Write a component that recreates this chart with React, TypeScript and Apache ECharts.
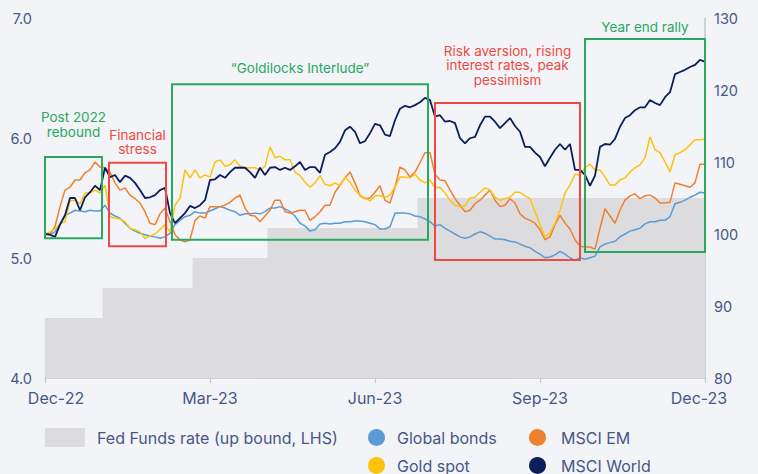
import React, { useEffect, useRef } from 'react';
import * as echarts from 'echarts';

// x positions are sample indices (0 = end Dec-22, 132 = end Dec-23)
const tickIndex = [0, 33, 66, 99, 132];
const tickLabels = ['Dec-22', 'Mar-23', 'Jun-23', 'Sep-23', 'Dec-23'];

const seriesNames = ['Fed Funds rate (up bound, LHS)', 'Global bonds', 'MSCI EM', 'Gold spot', 'MSCI World'];

const fedRate = [
  4.5, 4.5, 4.5, 4.5, 4.5, 4.5, 4.5, 4.5, 4.5, 4.5, 4.5, 4.5,
  4.75, 4.75, 4.75, 4.75, 4.75, 4.75, 4.75, 4.75, 4.75, 4.75, 4.75, 4.75, 4.75, 4.75, 4.75, 4.75, 4.75, 4.75,
  5.0, 5.0, 5.0, 5.0, 5.0, 5.0, 5.0, 5.0, 5.0, 5.0, 5.0, 5.0, 5.0, 5.0, 5.0,
  5.25, 5.25, 5.25, 5.25, 5.25, 5.25, 5.25, 5.25, 5.25, 5.25, 5.25, 5.25, 5.25, 5.25, 5.25,
  5.25, 5.25, 5.25, 5.25, 5.25, 5.25, 5.25, 5.25, 5.25, 5.25, 5.25, 5.25, 5.25, 5.25, 5.25,
  5.5, 5.5, 5.5, 5.5, 5.5, 5.5, 5.5, 5.5, 5.5, 5.5, 5.5, 5.5, 5.5, 5.5, 5.5, 5.5, 5.5, 5.5, 5.5, 5.5,
  5.5, 5.5, 5.5, 5.5, 5.5, 5.5, 5.5, 5.5, 5.5, 5.5, 5.5, 5.5, 5.5, 5.5, 5.5, 5.5, 5.5, 5.5, 5.5, 5.5,
  5.5, 5.5, 5.5, 5.5, 5.5, 5.5, 5.5, 5.5, 5.5, 5.5, 5.5, 5.5, 5.5, 5.5, 5.5, 5.5, 5.5, 5.5
];

const globalBonds = [
  100.0, 99.9, 100.3, 101.4, 102.6, 102.9, 103.3, 103.2, 103.1, 103.3,
  103.2, 103.2, 104.0, 102.9, 102.5, 102.2, 101.5, 100.8, 100.4, 100.1,
  99.9, 99.7, 99.6, 99.4, 99.6, 100.1, 101.3, 101.9, 102.4, 102.6,
  103.1, 102.9, 102.9, 103.2, 103.5, 103.8, 103.6, 103.3, 103.1, 102.6,
  102.8, 102.8, 102.9, 102.8, 103.1, 103.6, 103.6, 103.8, 103.5, 103.1,
  102.5, 101.5, 101.1, 100.4, 100.6, 101.4, 101.5, 101.4, 101.5, 101.5,
  101.7, 101.7, 101.8, 101.8, 101.7, 101.5, 101.3, 100.7, 100.7, 101.0,
  102.9, 102.9, 102.9, 102.8, 102.5, 102.4, 102.1, 101.7, 101.1, 101.3,
  100.8, 100.4, 100.0, 99.6, 99.4, 99.6, 100.0, 100.3, 100.1, 99.7,
  99.3, 99.3, 99.2, 99.0, 98.9, 98.6, 98.3, 98.1, 97.6, 97.2,
  96.7, 96.8, 97.1, 97.6, 97.2, 96.7, 96.3, 96.7, 96.5, 96.7,
  96.9, 98.2, 98.6, 98.8, 99.0, 99.6, 100.0, 100.4, 100.6, 100.8,
  101.4, 101.7, 101.7, 101.9, 101.9, 102.4, 104.2, 104.4, 104.7, 105.1,
  105.4, 105.8, 105.7
];

const msciEm = [
  100.0, 100.0, 101.0, 103.8, 106.1, 106.5, 107.5, 107.5, 108.5, 108.9,
  110.0, 109.3, 109.2, 108.6, 107.1, 106.1, 106.4, 105.4, 104.9, 104.3,
  103.1, 101.5, 101.3, 102.8, 103.6, 101.7, 99.9, 99.2, 98.9, 99.2,
  101.9, 102.5, 102.2, 103.8, 103.8, 103.8, 104.0, 104.4, 105.0, 105.4,
  103.6, 102.6, 102.5, 101.7, 102.5, 103.3, 104.7, 104.7, 103.1, 102.9,
  103.1, 103.3, 103.3, 101.9, 102.4, 103.1, 104.0, 104.0, 105.8, 106.8,
  107.8, 108.6, 107.1, 105.3, 104.9, 105.0, 105.8, 106.7, 104.7, 104.3,
  106.5, 109.3, 108.9, 107.9, 108.6, 109.9, 111.3, 111.3, 108.3, 107.5,
  107.4, 106.1, 104.9, 104.0, 103.1, 103.3, 104.2, 104.7, 105.4, 106.1,
  104.7, 103.8, 104.0, 104.9, 104.3, 102.8, 102.2, 101.9, 101.5, 100.6,
  99.2, 99.6, 101.3, 102.6, 101.5, 100.7, 99.2, 98.3, 98.2, 98.2,
  97.9, 100.8, 103.5, 102.5, 101.5, 103.3, 104.7, 105.3, 105.6, 104.9,
  105.3, 105.4, 105.0, 104.3, 104.3, 104.4, 107.1, 106.9, 106.7, 106.5,
  107.1, 109.7, 109.7
];

const goldSpot = [
  100.0, 100.3, 100.7, 101.4, 101.7, 104.6, 104.7, 104.2, 105.7, 105.7,
  106.1, 105.7, 106.8, 102.4, 102.2, 102.1, 101.7, 100.8, 100.6, 100.3,
  99.4, 99.7, 100.0, 100.6, 101.3, 100.3, 104.0, 105.0, 108.9, 107.8,
  108.9, 107.8, 108.2, 107.9, 110.0, 110.3, 109.4, 109.6, 110.3, 109.4,
  109.2, 109.2, 109.2, 108.9, 109.4, 112.1, 110.6, 110.8, 110.3, 110.3,
  108.6, 108.1, 107.2, 106.5, 107.1, 108.1, 106.9, 106.7, 107.1, 106.7,
  107.9, 107.2, 106.1, 105.4, 105.0, 104.6, 105.3, 105.3, 105.1, 105.4,
  106.5, 107.9, 107.9, 107.8, 108.3, 107.5, 107.1, 107.5, 106.4, 106.5,
  105.7, 104.7, 104.0, 103.8, 103.9, 105.0, 105.1, 105.8, 106.4, 106.1,
  105.1, 104.7, 104.9, 105.1, 105.8, 105.8, 105.3, 104.9, 103.1, 101.3,
  99.6, 100.1, 101.5, 103.3, 105.7, 106.8, 108.3, 108.2, 109.2, 109.7,
  108.9, 108.9, 107.9, 106.8, 106.8, 107.5, 107.8, 108.6, 109.2, 109.6,
  110.6, 113.5, 111.7, 111.3, 110.0, 108.6, 111.0, 111.3, 111.7, 112.4,
  113.1, 113.1, 113.2
];

const msciWorld = [
  100.0, 99.9, 99.6, 101.3, 102.6, 105.0, 105.0, 103.3, 105.1, 105.8,
  106.7, 106.1, 109.2, 107.9, 108.2, 107.2, 108.1, 107.8, 107.1, 106.1,
  105.0, 105.1, 105.4, 106.1, 106.4, 102.9, 101.5, 102.2, 102.9, 103.9,
  103.6, 104.0, 104.7, 107.5, 107.6, 108.2, 107.8, 108.6, 109.2, 109.2,
  109.2, 108.6, 107.8, 109.2, 108.2, 109.2, 109.3, 108.9, 109.2, 108.9,
  109.4, 110.0, 108.9, 109.3, 109.3, 108.5, 111.0, 111.4, 111.9, 112.8,
  114.4, 114.9, 114.2, 112.6, 112.9, 114.0, 115.3, 115.1, 113.8, 113.6,
  115.8, 117.4, 117.8, 117.6, 117.9, 118.3, 118.9, 118.6, 116.3, 116.5,
  115.6, 115.7, 115.4, 113.3, 112.6, 113.3, 113.5, 115.1, 116.3, 116.3,
  115.6, 114.7, 115.4, 116.1, 115.0, 114.2, 112.1, 112.1, 111.3, 110.7,
  109.4, 110.6, 111.7, 112.5, 111.7, 112.5, 108.9, 108.9, 108.2, 106.7,
  108.1, 112.1, 112.5, 112.4, 113.2, 114.9, 116.1, 116.5, 117.2, 117.6,
  117.6, 118.6, 118.2, 117.9, 119.0, 119.7, 122.2, 122.5, 122.8, 123.2,
  123.5, 124.2, 123.9
];

// annotation boxes: [label, x from, x to, y top (RHS), y bottom (RHS), kind]
const annotations: [string, number, number, number, number, string][] = [
  ['Post 2022\nrebound', 0, 11.4, 110.7, 99.4, 'good'],
  ['Financial\nstress', 12.8, 24.2, 109.9, 98.3, 'bad'],
  ['\u201cGoldilocks Interlude\u201d', 25.4, 76.6, 120.8, 99.2, 'good'],
  ['Risk aversion, rising\ninterest rates, peak\npessimism', 78, 107, 118.2, 96.4, 'bad'],
  ['Year end rally', 108, 132, 127.1, 97.5, 'good'],
];
const labelGaps = [17, 5, 8, 15, 4];

const FONT = 'Inter, Roboto, sans-serif';
const TXT = '#475887';
const GREEN = '#2aa85e';
const RED = '#ee4a43';
const AXIS = '#c3c7d1';

export default function App() {
  const ref = useRef<HTMLDivElement>(null);
  useEffect(() => {
    if (!ref.current) return;
    const chart = echarts.init(ref.current, undefined, { renderer: 'svg' });
    const pairs = (arr: number[]) => arr.map((v, i) => [i, v]);
    const colors = ['#dcdcdf', '#5b9bd5', '#f0802f', '#ffc20e', '#0c1f5c'];
    const lineSeries = (idx: number, data: number[], width: number) => ({
      name: seriesNames[idx],
      type: 'line',
      yAxisIndex: 1,
      data: pairs(data),
      showSymbol: false,
      symbol: 'none',
      color: colors[idx],
      lineStyle: { width, color: colors[idx] },
      itemStyle: { color: colors[idx] },
      z: 2 + idx,
    });
    const world: any = lineSeries(4, msciWorld, 1.8);
    world.markArea = {
      silent: true,
      z: 20,
      itemStyle: { color: 'transparent', borderWidth: 2 },
      label: { show: true, position: 'top', fontSize: 13.5, lineHeight: 14.5, fontFamily: FONT },
      data: annotations.map((a, k) => {
        const c = a[5] === 'good' ? GREEN : RED;
        return [
          {
            name: a[0], xAxis: a[1], yAxis: a[3],
            itemStyle: { color: 'transparent', borderColor: c, borderWidth: 2 },
            label: { color: c, distance: labelGaps[k] },
          },
          { xAxis: a[2], yAxis: a[4] },
        ];
      }),
    };
    const legendText = (pad: number) => ({
      color: TXT, fontSize: 16, fontFamily: FONT, padding: [0, 0, 0, pad],
    });
    const legendBase = { selectedMode: false, orient: 'horizontal' as const, padding: 0 };
    chart.setOption({
      animation: false,
      backgroundColor: '#f2f4f8',
      textStyle: { fontFamily: FONT },
      grid: { left: 45, right: 53, top: 18, bottom: 96, containLabel: false },
      legend: [
        { ...legendBase, data: [{ name: seriesNames[0], icon: 'rect' }], left: 45, top: 428, itemWidth: 40, itemHeight: 19, textStyle: legendText(7) },
        { ...legendBase, data: [{ name: seriesNames[1], icon: 'circle' }], left: 368, top: 429, itemWidth: 17, itemHeight: 17, textStyle: legendText(7) },
        { ...legendBase, data: [{ name: seriesNames[2], icon: 'circle' }], left: 529, top: 429, itemWidth: 17, itemHeight: 17, textStyle: legendText(10) },
        { ...legendBase, data: [{ name: seriesNames[3], icon: 'circle' }], left: 368, top: 457, itemWidth: 17, itemHeight: 17, textStyle: legendText(7) },
        { ...legendBase, data: [{ name: seriesNames[4], icon: 'circle' }], left: 529, top: 457, itemWidth: 17, itemHeight: 17, textStyle: legendText(10) },
      ],
      xAxis: {
        type: 'value',
        min: 0,
        max: 132,
        interval: 33,
        axisLine: { show: true, onZero: false, lineStyle: { color: AXIS, width: 1.5 } },
        axisTick: { show: true, length: 5, lineStyle: { color: AXIS, width: 1.2 } },
        splitLine: { show: false },
        axisLabel: {
          margin: 12,
          color: TXT,
          fontSize: 16,
          fontFamily: FONT,
          formatter: (v: number) => {
            const k = tickIndex.indexOf(Math.round(v));
            if (k < 0) return '';
            if (k === 0) return '{l|' + tickLabels[k] + '}';
            if (k === tickLabels.length - 1) return '{r|' + tickLabels[k] + '}';
            return tickLabels[k];
          },
          rich: {
            l: { color: TXT, fontSize: 16, fontFamily: FONT, padding: [0, 0, 0, 22] },
            r: { color: TXT, fontSize: 16, fontFamily: FONT, padding: [0, 12, 0, 0] },
          },
        },
      },
      yAxis: [
        {
          type: 'value', position: 'left', min: 4, max: 7, interval: 1,
          axisLine: { show: false }, axisTick: { show: false }, splitLine: { show: false },
          axisLabel: { margin: 13, color: TXT, fontSize: 14.5, fontFamily: FONT, formatter: (v: number) => v.toFixed(1) },
        },
        {
          type: 'value', position: 'right', min: 80, max: 130, interval: 10,
          axisLine: { show: true, lineStyle: { color: AXIS, width: 1.5 } },
          axisTick: { show: false }, splitLine: { show: false },
          axisLabel: { margin: 9, color: TXT, fontSize: 14.5, fontFamily: FONT },
        },
      ],
      series: [
        {
          name: seriesNames[0],
          type: 'line',
          yAxisIndex: 0,
          step: 'middle',
          data: pairs(fedRate),
          showSymbol: false,
          symbol: 'none',
          color: colors[0],
          itemStyle: { color: colors[0] },
          lineStyle: { width: 0, color: colors[0] },
          areaStyle: { color: colors[0], opacity: 1, origin: 'start' },
          z: 1,
        },
        lineSeries(1, globalBonds, 1.5),
        lineSeries(2, msciEm, 1.5),
        lineSeries(3, goldSpot, 1.5),
        world,
      ],
    });
    return () => chart.dispose();
  }, []);
  return (
    <div
      ref={ref}
      style={{ position: 'fixed', left: 0, top: 0, width: 758, height: 474, background: '#f2f4f8' }}
    />
  );
}
